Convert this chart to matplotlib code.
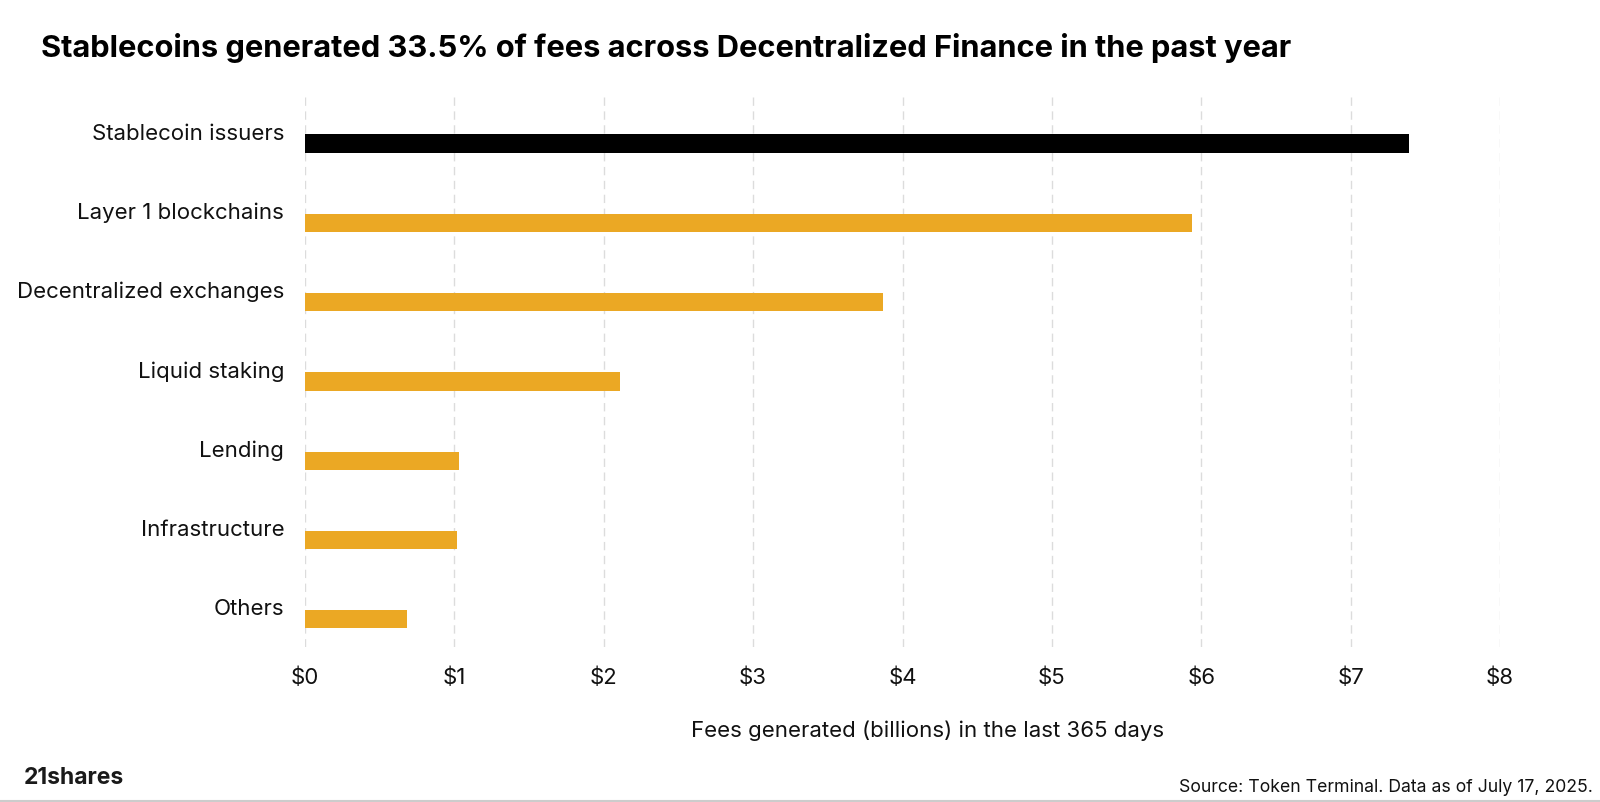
import matplotlib
matplotlib.use("Agg")
import matplotlib.pyplot as plt
from matplotlib.lines import Line2D
import numpy as np

plt.rcParams['font.family'] = ['Inter', 'DejaVu Sans']

categories = ['Stablecoin issuers', 'Layer 1 blockchains', 'Decentralized exchanges',
              'Liquid staking', 'Lending', 'Infrastructure', 'Others']
fees = [7.39, 5.94, 3.87, 2.11, 1.03, 1.02, 0.68]
bar_colors = ['#000000', '#EBA824', '#EBA824', '#EBA824', '#EBA824', '#EBA824', '#EBA824']
x_ticks = [0, 1, 2, 3, 4, 5, 6, 7, 8]
x_tick_labels = ['$' + str(t) for t in x_ticks]

fig = plt.figure(figsize=(16, 8.02), dpi=100)
ax = fig.add_axes([305 / 1600, 155 / 802, 1195 / 1600, 555 / 802])

y = np.arange(len(categories))
ax.barh(y + 0.15, fees, height=0.23, color=bar_colors, zorder=3)

ax.set_xlim(0, 8)
ax.set_ylim(6.5, -0.5)
ax.set_yticks(y)
ax.set_yticklabels(categories, fontsize=16)
ax.set_xticks(x_ticks)
ax.set_xticklabels(x_tick_labels, fontsize=16)
ax.tick_params(axis='both', length=0, colors='#111111')
ax.tick_params(axis='y', pad=15)
ax.tick_params(axis='x', pad=15)

ax.grid(axis='x', color='#dcdcdc', linestyle=(0, (6, 4)), linewidth=1, zorder=0)
ax.grid(axis='y', visible=False)
for s in ax.spines.values():
    s.set_visible(False)

ax.set_xlabel('Fees generated (billions) in the last 365 days', fontsize=16,
              labelpad=23, color='#111111')
ax.xaxis.label.set_x(0.521)

fig.text(41 / 1600, 1 - 48 / 802,
         'Stablecoins generated 33.5% of fees across Decentralized Finance in the past year',
         fontsize=22.2, fontweight='bold', ha='left', va='center', color='#000000')

fig.text(24 / 1600, 1 - 778 / 802, '21shares', fontsize=16.5, fontweight='bold',
         ha='left', va='center', color='#1a1a1a')

fig.text(1593 / 1600, 1 - 787 / 802, 'Source: Token Terminal. Data as of July 17, 2025.',
         fontsize=12.7, ha='right', va='center', color='#111111')

fig.add_artist(Line2D([0, 1], [0.001, 0.001], color='#cccccc', linewidth=1.5,
                      transform=fig.transFigure))

fig.savefig('out.png', dpi=100, facecolor='white')
